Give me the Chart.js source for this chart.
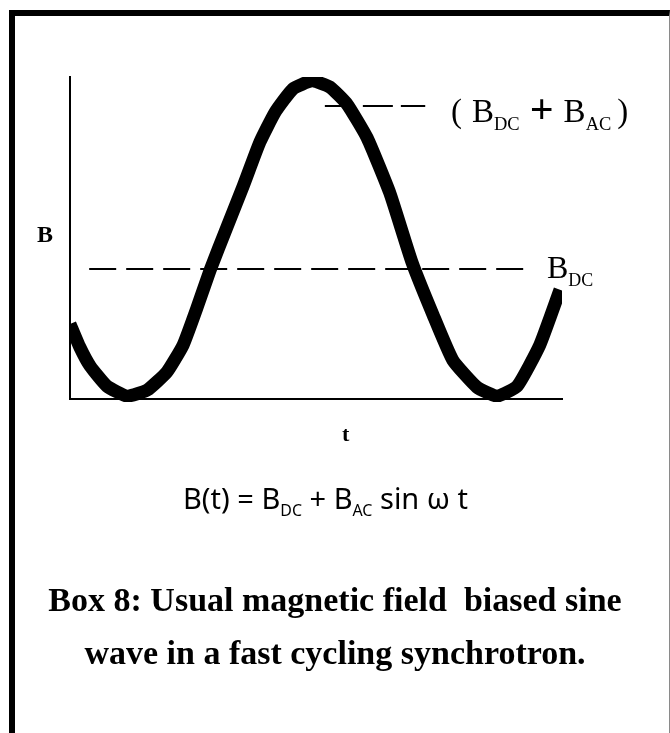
<!DOCTYPE html>
<html>
<head>
<meta charset="utf-8">
<script src="https://cdn.jsdelivr.net/npm/chart.js@4/dist/chart.umd.min.js"></script>
<style>
  html, body { margin:0; padding:0; background:#fff; width:670px; height:733px; overflow:hidden; }
  #frame { position:absolute; left:9px; top:10px; width:661px; height:800px; box-sizing:border-box;
           border-top:6px solid #000; border-left:6px solid #000; border-right:1px solid #8a8a8a; }
  #wrap { position:absolute; left:0; top:0; width:670px; height:733px; }
  .lbl { position:absolute; color:#000; white-space:pre; line-height:1; }
  .serif { font-family:"Liberation Serif","DejaVu Serif",serif; }
  .sub { font-size:56%; position:relative; top:0.45em; }
  #yLab { left:37px; top:222px; font-size:24px; font-weight:bold; }
  #xLab { left:342px; top:423px; font-size:22px; font-weight:bold; }
  #peakLab { left:451px; top:87px; font-size:33px; }
  #peakLab .plus { font-size:42px; position:relative; top:0.02em; margin:0 10px 0 10px; font-weight:bold; }
  #peakLab .gap { margin-left:10px; }
  #peakLab .gap2 { margin-left:6px; }
  #dcLab { left:547px; top:251px; font-size:32px; }
  #formula { left:183px; top:483px; font-size:29px;
             font-family:"Noto Sans","Open Sans",sans-serif; }
  #formula .sub { font-size:55%; top:0.42em; }
  #caption { left:0; width:670px; text-align:center; top:573px; font-size:34px; font-weight:bold;
             line-height:53px; }
</style>
</head>
<body>
<div id="wrap"><canvas id="c" width="670" height="733"></canvas></div>
<div id="frame"></div>
<div class="lbl serif" id="yLab">B</div>
<div class="lbl serif" id="xLab">t</div>
<div class="lbl serif" id="peakLab">(<span class="gap"></span>B<span class="sub">DC</span><span class="plus">+</span>B<span class="sub">AC</span><span class="gap2"></span>)</div>
<div class="lbl serif" id="dcLab">B<span class="sub">DC</span></div>
<div class="lbl" id="formula">B(t) = B<span class="sub">DC</span> + B<span class="sub">AC</span> sin ω t</div>
<div class="lbl serif" id="caption">Box 8: Usual magnetic field  biased sine
wave in a fast cycling synchrotron.</div>
<script>
// time axis (arbitrary units 0..100) and field values (arbitrary units 0..100)
const timeValues  = [0, 2.0, 4.1, 7.5, 11.6, 15.7, 19.7, 23.0, 25.8, 28.5, 31.9, 35.2, 38.6, 41.7, 45.3, 49.2,
                     52.8, 56.3, 60.4, 65.0, 69.5, 73.8, 77.8, 82.7, 86.8, 90.9, 95.5, 99.6];
const fieldValues = [23.3, 16.1, 10.2, 4.0, 0.9, 2.8, 8.4, 16.8, 28.3, 40.1, 53.4, 66.1, 79.8, 89.1, 96.3, 98.8,
                     96.9, 91.6, 81.1, 64.0, 42.5, 26.1, 12.1, 3.7, 0.9, 4.0, 16.8, 33.9];
const dcLevel = 40.4;          // B_DC
const dcLineSpan = [3.9, 92.5];
const peakLevel = 91.0;        // B_DC + B_AC
const peakLineSpan = [51.8, 72.2];
const axisRange = { tMin: 0, tMax: 100, bMin: 0, bMax: 100 };

const curve = timeValues.map((t, i) => ({ x: t, y: fieldValues[i] }));
const dcLine = dcLineSpan.map(t => ({ x: t, y: dcLevel }));
const peakLine = peakLineSpan.map(t => ({ x: t, y: peakLevel }));

new Chart(document.getElementById('c'), {
  type: 'line',
  data: {
    datasets: [
      { data: dcLine, borderColor: '#000', borderWidth: 2, borderDash: [27, 10], pointRadius: 0, fill: false },
      { data: peakLine, borderColor: '#000', borderWidth: 2, borderDash: [30, 8], pointRadius: 0, fill: false },
      { data: curve, borderColor: '#000', borderWidth: 13, pointRadius: 0, tension: 0.15, fill: false,
        borderJoinStyle: 'round', clip: { left: 0, top: 0, right: 0, bottom: 3 } }
    ]
  },
  options: {
    responsive: false,
    animation: false,
    devicePixelRatio: 1,
    layout: { padding: { left: 70, top: 77, right: 108, bottom: 334 } },
    plugins: { legend: { display: false }, tooltip: { enabled: false } },
    scales: {
      x: { type: 'linear', min: axisRange.tMin, max: axisRange.tMax,
           grid: { display: false, drawTicks: false }, ticks: { display: false },
           border: { display: true, color: '#000', width: 2 } },
      y: { type: 'linear', min: axisRange.bMin, max: axisRange.bMax,
           grid: { display: false, drawTicks: false }, ticks: { display: false },
           border: { display: true, color: '#000', width: 2 } }
    }
  }
});
</script>
</body>
</html>
